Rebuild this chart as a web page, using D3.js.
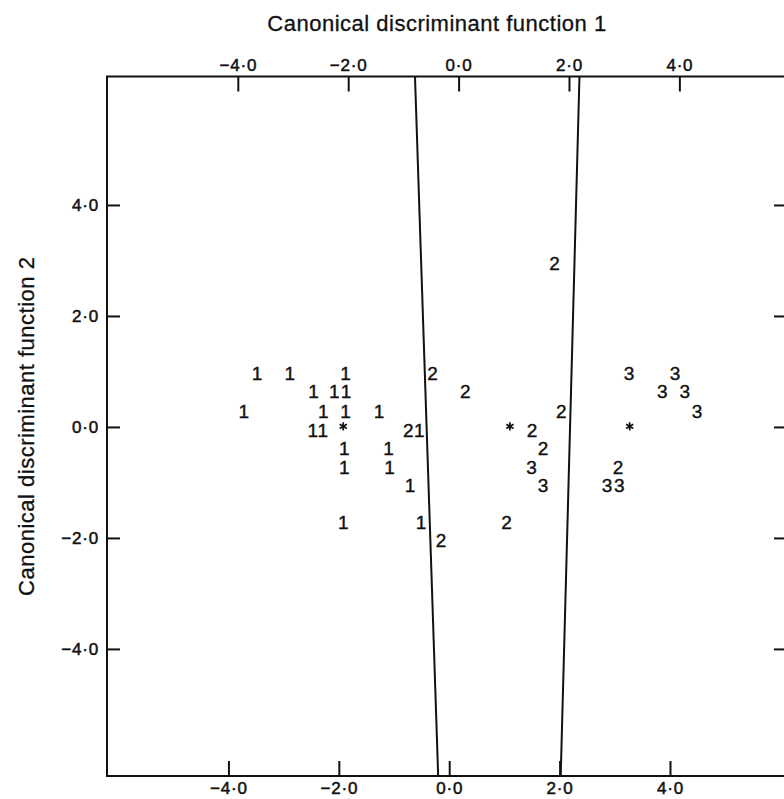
<!DOCTYPE html>
<html>
<head>
<meta charset="utf-8">
<script src="https://cdn.jsdelivr.net/npm/d3@7"></script>
<style>
  body { margin: 0; background: #fff; }
  svg { display: block; }
  .lbl { font-family: "Liberation Sans", Arial, sans-serif; fill: #111; }
</style>
</head>
<body>
<div id="chart"></div>
<script>
// group scores (function 1, function 2)
const group1 = [
  [-3.48, 0.97], [-2.89, 0.97], [-1.88, 0.97],
  [-2.46, 0.64], [-2.08, 0.64], [-1.87, 0.64],
  [-3.72, 0.28], [-2.28, 0.28], [-1.88, 0.28], [-1.27, 0.28],
  [-2.47, -0.05], [-2.29, -0.05], [-0.54, -0.05],
  [-1.90, -0.38], [-1.10, -0.38],
  [-1.90, -0.72], [-1.08, -0.72],
  [-0.71, -1.05],
  [-1.92, -1.71], [-0.51, -1.71]
];
const group2 = [
  [-0.30, 0.97], [0.29, 0.64], [-0.74, -0.05], [-0.15, -2.04],
  [1.91, 2.96], [2.03, 0.28], [1.50, -0.05], [1.70, -0.38],
  [3.06, -0.72], [1.04, -1.71]
];
const group3 = [
  [3.26, 0.97], [4.09, 0.97], [3.86, 0.64], [4.27, 0.64], [4.49, 0.28],
  [1.49, -0.72], [1.70, -1.05], [2.86, -1.05], [3.08, -1.05]
];
const centroids = [[-1.92, 0.01], [1.10, 0.01], [3.27, 0.01]];

// territorial boundaries: x at top edge, x at bottom edge
const boundaryTopX = [-0.62, 2.36];
const boundaryBottomX = [-0.20, 2.02];

const xTicks = [-4, -2, 0, 2, 4];
const yTicks = [-4, -2, 0, 2, 4];

const width = 784, height = 799;
const plotLeft = 107, plotRight = 787, plotTop = 76.5, plotBottom = 776;

const svg = d3.select("#chart").append("svg")
  .attr("width", width)
  .attr("height", height);

const x = d3.scaleLinear().domain([-6.2, 6.12]).range([plotLeft, plotRight]);
// the top axis is printed a little offset from the bottom one
const xTop = d3.scaleLinear().domain([-6.37, 5.95]).range([plotLeft, plotRight]);
const y = d3.scaleLinear().domain([-6.29, 6.315]).range([plotBottom, plotTop]);

const fmt = d => (d < 0 ? "\u2212" : "") + Math.abs(d).toFixed(1).replace(".", "\u00b7");

function styleAxis(g) {
  g.attr("font-family", "Liberation Sans, Arial, sans-serif")
    .attr("font-size", 17);
  g.select(".domain").remove();
  g.selectAll(".tick line").attr("stroke", "#111").attr("stroke-width", 2);
  g.selectAll(".tick text")
    .attr("fill", "#111")
    .attr("stroke", "#111")
    .attr("stroke-width", 0.5)
    .attr("letter-spacing", "0.8px");
}

svg.append("g")
  .attr("transform", `translate(0,${plotBottom})`)
  .call(d3.axisBottom(x).tickValues(xTicks).tickFormat(fmt).tickSizeInner(-15).tickSizeOuter(0).tickPadding(6))
  .call(styleAxis);

svg.append("g")
  .attr("transform", `translate(0,${plotTop})`)
  .call(d3.axisTop(xTop).tickValues(xTicks).tickFormat(fmt).tickSizeInner(-15).tickSizeOuter(0).tickPadding(6))
  .call(styleAxis);

svg.append("g")
  .attr("transform", `translate(${plotLeft},0)`)
  .call(d3.axisLeft(y).tickValues(yTicks).tickFormat(fmt).tickSizeInner(-13).tickSizeOuter(0).tickPadding(8))
  .call(styleAxis);

svg.append("g")
  .attr("transform", `translate(${plotRight},0)`)
  .call(d3.axisRight(y).tickValues(yTicks).tickFormat(() => "").tickSizeInner(-13).tickSizeOuter(0))
  .call(styleAxis);

// frame
svg.append("rect")
  .attr("x", plotLeft).attr("y", plotTop)
  .attr("width", plotRight - plotLeft).attr("height", plotBottom - plotTop)
  .attr("fill", "none")
  .attr("stroke", "#111")
  .attr("stroke-width", 2);

// boundary lines
svg.selectAll(".boundary")
  .data(boundaryTopX.map((t, i) => [t, boundaryBottomX[i]]))
  .enter().append("line")
  .attr("class", "boundary")
  .attr("x1", d => x(d[0])).attr("y1", y(y.domain()[1]))
  .attr("x2", d => x(d[1])).attr("y2", y(y.domain()[0]))
  .attr("stroke", "#111")
  .attr("stroke-width", 2);

// group members as digits
const groups = [group1, group2, group3];
groups.forEach((pts, gi) => {
  svg.selectAll(".g" + gi)
    .data(pts)
    .enter().append("text")
    .attr("class", "lbl g" + gi)
    .attr("x", d => x(d[0]))
    .attr("y", d => y(d[1]))
    .attr("dy", "0.36em")
    .attr("text-anchor", "middle")
    .attr("font-size", 19)
    .attr("stroke", "#111")
    .attr("stroke-width", 0.4)
    .text(String(gi + 1));
});

// group centroids
svg.selectAll(".cent")
  .data(centroids)
  .enter().append("path")
  .attr("class", "cent")
  .attr("transform", d => `translate(${x(d[0])},${y(d[1])})`)
  .attr("d", d3.symbol(d3.symbolAsterisk, 48))
  .attr("fill", "none")
  .attr("stroke", "#111")
  .attr("stroke-width", 1.7);

// axis titles
svg.append("text")
  .attr("class", "lbl")
  .attr("x", 437).attr("y", 31)
  .attr("text-anchor", "middle")
  .attr("font-size", 22)
  .attr("letter-spacing", "0.5px")
  .attr("stroke", "#111")
  .attr("stroke-width", 0.3)
  .text("Canonical discriminant function 1");

svg.append("text")
  .attr("class", "lbl")
  .attr("transform", `translate(34,${(plotTop + plotBottom) / 2}) rotate(-90)`)
  .attr("text-anchor", "middle")
  .attr("font-size", 22)
  .attr("letter-spacing", "0.5px")
  .attr("stroke", "#111")
  .attr("stroke-width", 0.3)
  .text("Canonical discriminant function 2");
</script>
</body>
</html>
